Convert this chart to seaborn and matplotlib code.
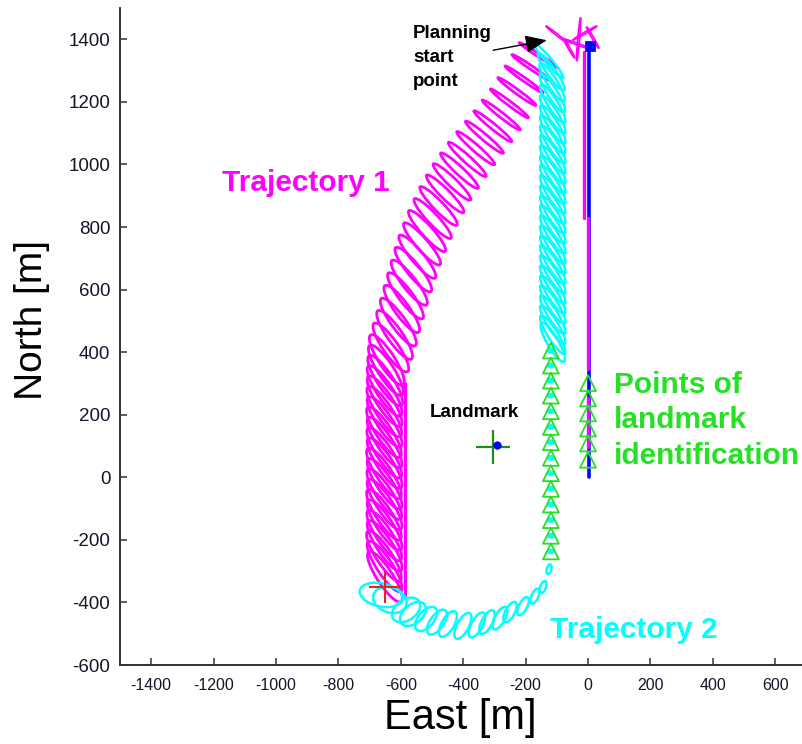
import matplotlib
matplotlib.use("Agg")
import matplotlib.pyplot as plt
from matplotlib.patches import Ellipse
import pandas as pd
import seaborn as sns

# ---------------- data (metres, east / north) ----------------
# Trajectory 1 covariance ellipses: centre, semi-axes, orientation (deg)
traj1_east = [-160, -183, -205, -228, -252, -278, -305, -332, -360, -387, -412, -436, -458,
              -479, -498, -516, -532, -547, -560, -573, -585, -597, -608, -620, -632,
              -645, -648, -650, -652, -652, -653, -652, -654, -652, -653, -652, -654,
              -652, -653, -652, -654, -652, -653, -652, -654, -652, -651]
traj1_north = [1350, 1310, 1272, 1233, 1195, 1158, 1122, 1087, 1052, 1016, 980, 944, 906,
               867, 827, 787, 746, 705, 664, 622, 580, 538, 496, 455, 415,
               375, 342, 309, 276, 243, 210, 177, 144, 111, 78, 45, 12,
               -21, -54, -87, -120, -153, -186, -219, -252, -285, -318]
traj1_semi_major = [72, 73, 74, 75, 76, 77, 78, 79, 80, 81, 82, 83, 84,
                    85, 86, 87, 88, 89, 90, 90, 91, 92, 93, 94, 94,
                    95, 95, 95, 95, 95, 95, 95, 95, 95, 95, 95, 95,
                    95, 95, 95, 95, 95, 95, 95, 95, 95, 95]
traj1_semi_minor = [5, 6, 6, 7, 7, 8, 9, 10, 11, 12, 13, 14, 15,
                    16, 17, 18, 19, 20, 21, 22, 22, 23, 23, 24, 24,
                    25, 25, 25, 25, 25, 25, 25, 25, 25, 25, 25, 25,
                    25, 25, 25, 25, 25, 25, 25, 25, 25, 25]
traj1_angle = [-33, -34, -35, -36, -37, -38, -39, -40, -41, -42, -43, -44, -45,
               -46, -47, -48, -49, -50, -51, -52, -53, -54, -54, -55, -55,
               -57, -57, -57, -57, -57, -57, -57, -57, -57, -57, -57, -57,
               -57, -57, -57, -57, -57, -57, -57, -57, -57, -57]
traj1_edge_east = [-587, -587]
traj1_edge_north = [300, -385]

# Trajectory 2 covariance ellipses (northbound leg first, then the southern turn)
traj2_east = [-125, -118, -115, -114, -113, -113, -113, -113, -113, -113, -113, -113, -113,
              -113, -113, -113, -113, -113, -113, -113, -113, -113, -113, -113, -113,
              -113, -113, -113, -113,
              -125, -144, -170, -208, -250, -282, -324, -356, -401, -449, -484, -519,
              -561, -583, -635, -663]
traj2_north = [1330, 1296, 1262, 1228, 1194, 1160, 1128, 1096, 1064, 1032, 1000, 968, 936,
               904, 872, 840, 808, 776, 744, 712, 680, 648, 616, 584, 552,
               520, 488, 456, 432,
               -294, -351, -380, -412, -431, -450, -463, -472, -475, -469, -463, -453,
               -437, -424, -392, -376]
traj2_semi_major = [70, 72, 72, 72, 72, 72, 72, 72, 72, 72, 72, 72, 72,
                    72, 72, 72, 72, 72, 72, 72, 72, 72, 72, 72, 72,
                    72, 72, 72, 72,
                    16, 20, 26, 32, 36, 40, 42, 44, 46, 46, 46, 46,
                    48, 50, 55, 70]
traj2_semi_minor = [10, 14, 16, 16, 16, 16, 16, 16, 16, 16, 16, 16, 16,
                    16, 16, 16, 16, 16, 16, 16, 16, 16, 16, 16, 16,
                    16, 16, 16, 18,
                    7, 9, 11, 13, 15, 16, 17, 18, 19, 20, 22, 25,
                    30, 33, 40, 37]
traj2_angle = [-50, -55, -58, -58, -58, -58, -58, -58, -58, -58, -58, -58, -58,
               -58, -58, -58, -58, -58, -58, -58, -58, -58, -58, -58, -58,
               -58, -58, -58, -60,
               75, 70, 66, 63, 62, 62, 62, 62, 62, 60, 55, 50,
               40, 35, -20, -12]

# Landmark identification points
ident2_east = [-119] * 14
ident2_north = [405, 357, 309, 261, 211, 161, 112, 62, 13, -37, -87, -137, -187, -237]
ident1_east = [0, 0, 0, 0, 0, 0]
ident1_north = [301, 252, 204, 156, 108, 56]

# Reference track along the planned line (east = 0)
ref_blue_east = [2, 2]
ref_blue_north = [1378, 0]
ref_mag_segments = [([-13, -13], [1360, 830]),
                    ([-1, -1], [830, 345]),
                    ([-1, -1], [253, 97])]

# Spread of start-point estimates near the planning start
start_east = [-100, -30, -10, -35, 15, -60]
start_north = [1415, 1400, 1420, 1385, 1405, 1370]
start_semi_major = [45, 70, 45, 50, 40, 35]
start_angle = [-38, 85, 30, -20, 120, -60]

landmark_east, landmark_north = -304, 96
landmark_est_east, landmark_est_north = -292, 103
goal_east, goal_north = -651, -351
arrow_tail = (-304, 1365)
arrow_tip = (-132, 1397)

MAGENTA = "#ff00ff"
CYAN = "#00ffff"
BLUE = "#0000ff"
GREEN = "#25e025"

# ---------------- figure ----------------
sns.set_theme(style="ticks")
plt.rcParams["font.family"] = ["Liberation Sans", "DejaVu Sans"]
plt.rcParams["axes.unicode_minus"] = False

fig = plt.figure(figsize=(8.03, 7.44), dpi=100)
ax = fig.add_axes([120 / 803, 79 / 744, 683 / 803, 657 / 744])

def draw_ellipses(east, north, a, b, ang, color, lw):
    for x, y, sa, sb, t in zip(east, north, a, b, ang):
        ax.add_patch(Ellipse((x, y), 2 * sa, 2 * sb, angle=t, fill=False,
                             edgecolor=color, linewidth=lw, zorder=2))

draw_ellipses(traj1_east, traj1_north, traj1_semi_major, traj1_semi_minor,
              traj1_angle, MAGENTA, 2.0)
sns.lineplot(x=traj1_edge_east, y=traj1_edge_north, sort=False, estimator=None,
             color=MAGENTA, lw=2.2, ax=ax, zorder=2)
draw_ellipses(traj2_east, traj2_north, traj2_semi_major, traj2_semi_minor,
              traj2_angle, CYAN, 1.8)
draw_ellipses(start_east, start_north, start_semi_major, [3] * len(start_east),
              start_angle, MAGENTA, 1.2)

# small filled ellipses at the identification fixes of trajectory 2
for x, y in zip(ident2_east, ident2_north):
    ax.add_patch(Ellipse((x, y), 22, 14, fill=True, color=CYAN, zorder=3))

# reference line
sns.lineplot(x=ref_blue_east, y=ref_blue_north, sort=False, estimator=None,
             color=BLUE, lw=2.6, ax=ax, zorder=3)
for xs, ys in ref_mag_segments:
    sns.lineplot(x=xs, y=ys, sort=False, estimator=None, color=MAGENTA, lw=2.4,
                 ax=ax, zorder=3)
sns.scatterplot(x=[ref_blue_east[0] + 3], y=[ref_blue_north[0]], marker="s", s=45,
                color=BLUE, edgecolor=BLUE, ax=ax, zorder=4)

# identification triangles
ident = pd.DataFrame({"east": ident2_east + ident1_east,
                      "north": ident2_north + ident1_north})
ax.scatter(ident["east"], ident["north"], marker="^", s=130, facecolors="none",
           edgecolors=GREEN, linewidths=1.3, zorder=4)

# landmark and its estimate, goal cross
sns.scatterplot(x=[landmark_east], y=[landmark_north], marker="+", s=600,
                color="#1e8c1e", linewidth=1.6, ax=ax, zorder=5)
sns.scatterplot(x=[landmark_est_east], y=[landmark_est_north], marker="o", s=30,
                color=BLUE, edgecolor=BLUE, ax=ax, zorder=5)
sns.scatterplot(x=[goal_east], y=[goal_north], marker="+", s=560,
                color="#ee2020", linewidth=1.5, ax=ax, zorder=5)

# annotations
bold = dict(fontweight="bold")
ax.annotate("", xy=arrow_tip, xytext=arrow_tail,
            arrowprops=dict(arrowstyle="-|>,head_length=1.1,head_width=0.45",
                            color="black", lw=1.0, shrinkA=0, shrinkB=0), zorder=6)
ax.text(-561, 1342, "Planning\nstart\npoint", fontsize=13.5, color="black",
        ha="left", va="center", linespacing=1.54, **bold)
ax.text(-506, 208, "Landmark", fontsize=13.5, color="black", ha="left",
        va="center", **bold)
ax.text(-1173, 940, "Trajectory 1", fontsize=21.5, color=MAGENTA, ha="left",
        va="center", **bold)
ax.text(-122, -488, "Trajectory 2", fontsize=21.5, color=CYAN, ha="left",
        va="center", **bold)
ax.text(83, 182, "Points of\nlandmark\nidentification", fontsize=21.5, color=GREEN,
        ha="left", va="center", linespacing=1.33, **bold)

# axes
ax.set_xlim(-1500, 689)
ax.set_ylim(-600, 1500)
ax.set_xticks(range(-1400, 601, 200))
ax.set_yticks(range(-600, 1401, 200))
ax.set_xlabel("East [m]", fontsize=30, color="black")
ax.set_ylabel("North [m]", fontsize=28, color="black")
ax.xaxis.set_label_coords(0.498, -0.050)
ax.yaxis.set_label_coords(-0.103, 0.525)
for side in ("top", "right"):
    ax.spines[side].set_visible(False)
for side in ("left", "bottom"):
    ax.spines[side].set_color("#333333")
    ax.spines[side].set_linewidth(1.4)
ax.tick_params(direction="in", length=5, width=1.1, color="#333333",
               labelcolor="#15152a")
ax.tick_params(axis="y", labelsize=13.5, pad=7)
ax.tick_params(axis="x", labelsize=11.5, pad=9)
ax.grid(False)
ax.set_facecolor("white")

fig.savefig("out.png", dpi=100)
